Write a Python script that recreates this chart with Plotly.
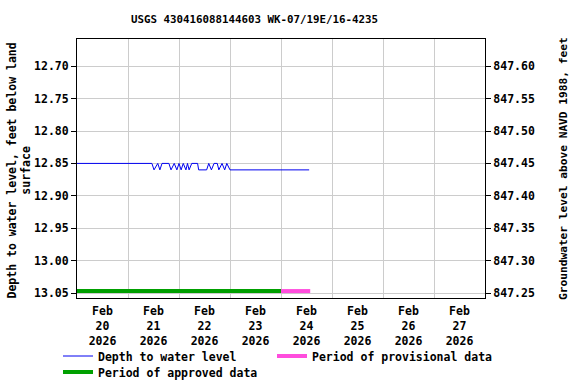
import plotly.graph_objects as go

# ---- data ----
depth_times = [
    "2026-02-20 00:00", "2026-02-21 11:15", "2026-02-21 12:15", "2026-02-21 14:00",
    "2026-02-21 15:00", "2026-02-21 16:00", "2026-02-21 19:15", "2026-02-21 20:15",
    "2026-02-21 21:45", "2026-02-21 23:00", "2026-02-22 00:00", "2026-02-22 01:00",
    "2026-02-22 02:00", "2026-02-22 03:15", "2026-02-22 04:00", "2026-02-22 04:45",
    "2026-02-22 06:00", "2026-02-22 08:45", "2026-02-22 09:15", "2026-02-22 13:00",
    "2026-02-22 14:00", "2026-02-22 15:15", "2026-02-22 16:30", "2026-02-22 18:00",
    "2026-02-22 18:45", "2026-02-22 20:15", "2026-02-22 21:30", "2026-02-22 22:30",
    "2026-02-23 00:00", "2026-02-24 13:15",
]
depth_values = [
    12.85, 12.85, 12.86, 12.85,
    12.86, 12.85, 12.85, 12.86,
    12.85, 12.86, 12.85, 12.86,
    12.85, 12.86, 12.85, 12.86,
    12.85, 12.85, 12.86, 12.86,
    12.85, 12.86, 12.85, 12.85,
    12.86, 12.85, 12.86, 12.85,
    12.86, 12.86,
]
datum_offset = 860.30  # elevation = offset - depth

approved_times = ["2026-02-20 00:00", "2026-02-24 00:00"]
provisional_times = ["2026-02-24 00:00", "2026-02-24 13:45"]
period_bar_level = [13.047, 13.047]

label_days = ["2026-02-%02d 12:00" % d for d in range(20, 28)]
label_text = ["Feb<br>%d<br>2026" % d for d in range(20, 28)]
grid_days = ["2026-02-%02d 00:00" % d for d in range(21, 28)]

x_range = ["2026-02-20 00:00", "2026-02-28 00:00"]
left_range = [13.0577, 12.658]
right_range = [datum_offset - left_range[0], datum_offset - left_range[1]]

FONT = "DejaVu Sans Mono"
fs = 11.5

# plot-area geometry in pixels
PL, PR, PT, PB = 77, 485, 39, 298
PW, PH = PR - PL, PB - PT


def px_x(x):
    return (x - PL) / PW


def px_y(y):
    return (PB - y) / PH


fig = go.Figure()
fig.add_trace(go.Scatter(x=depth_times, y=depth_values, mode="lines",
                         line=dict(color="#0000f0", width=1),
                         name="Depth to water level", yaxis="y", legend="legend"))
fig.add_trace(go.Scatter(x=provisional_times, y=period_bar_level, mode="lines",
                         line=dict(color="#ff4ddd", width=4),
                         name="Period of provisional data", yaxis="y", legend="legend2"))
fig.add_trace(go.Scatter(x=approved_times, y=period_bar_level, mode="lines",
                         line=dict(color="#00a000", width=4),
                         name="Period of approved data", yaxis="y", legend="legend3"))
fig.add_trace(go.Scatter(x=depth_times, y=[datum_offset - v for v in depth_values],
                         mode="lines", line=dict(width=0), opacity=0,
                         showlegend=False, hoverinfo="skip", yaxis="y2"))

leg_common = dict(orientation="h", xanchor="left", yanchor="middle",
                  font=dict(family=FONT, size=fs, weight="bold"),
                  bgcolor="rgba(0,0,0,0)", itemwidth=30)

fig.update_layout(
    width=576, height=384,
    margin=dict(l=PL, r=576 - PR, t=PT, b=384 - PB, autoexpand=False),
    paper_bgcolor="white", plot_bgcolor="white",
    font=dict(family=FONT, size=fs, color="black", weight="bold"),
    title=dict(text="USGS 430416088144603 WK-07/19E/16-4235",
               x=254.5 / 576, xanchor="center", y=1 - 19 / 384, yanchor="middle",
               font=dict(family=FONT, size=10.8, weight="bold")),
    xaxis=dict(type="date", range=x_range, automargin=False,
               tickmode="array", tickvals=label_days, ticktext=label_text,
               ticks="", showgrid=False, showline=True, linecolor="black",
               linewidth=1, mirror=True, zeroline=False, ticklabelstandoff=2,
               minor=dict(tickmode="array", tickvals=grid_days, showgrid=True,
                          gridcolor="#cccccc", gridwidth=1, ticks=""),
               tickfont=dict(family=FONT, size=fs, weight="bold")),
    yaxis=dict(range=left_range, tickmode="linear", tick0=12.70, dtick=0.05,
               automargin=False,
               tickformat=".2f", ticks="outside", ticklen=5, tickcolor="black",
               showgrid=True, gridcolor="#cccccc", gridwidth=1, zeroline=False,
               showline=True, linecolor="black", linewidth=1),
    yaxis2=dict(range=right_range, overlaying="y", side="right", automargin=False,
                tickmode="linear", tick0=847.25, dtick=0.05, tickformat=".2f",
                ticks="outside", ticklen=5, tickcolor="black", showgrid=False,
                zeroline=False, showline=True, linecolor="black", linewidth=1),
    annotations=[
        dict(text="Depth to water level, feet below land<br>surface",
             xref="paper", yref="paper", x=px_x(18.5), y=px_y(171),
             xanchor="center", yanchor="middle", textangle=-90, showarrow=False,
             font=dict(family=FONT, size=fs, weight="bold")),
        dict(text="Groundwater level above NAVD 1988, feet",
             xref="paper", yref="paper", x=px_x(563.5), y=px_y(168.5),
             xanchor="center", yanchor="middle", textangle=-90, showarrow=False,
             font=dict(family=FONT, size=11.2, weight="bold")),
    ],
    legend=dict(x=px_x(58), y=px_y(356), **leg_common),
    legend2=dict(x=px_x(272), y=px_y(356), **leg_common),
    legend3=dict(x=px_x(58), y=px_y(372), **leg_common),
    showlegend=True,
)

fig.write_html("out.html", config={"displayModeBar": False},
               post_script="document.body.style.margin='0';")
